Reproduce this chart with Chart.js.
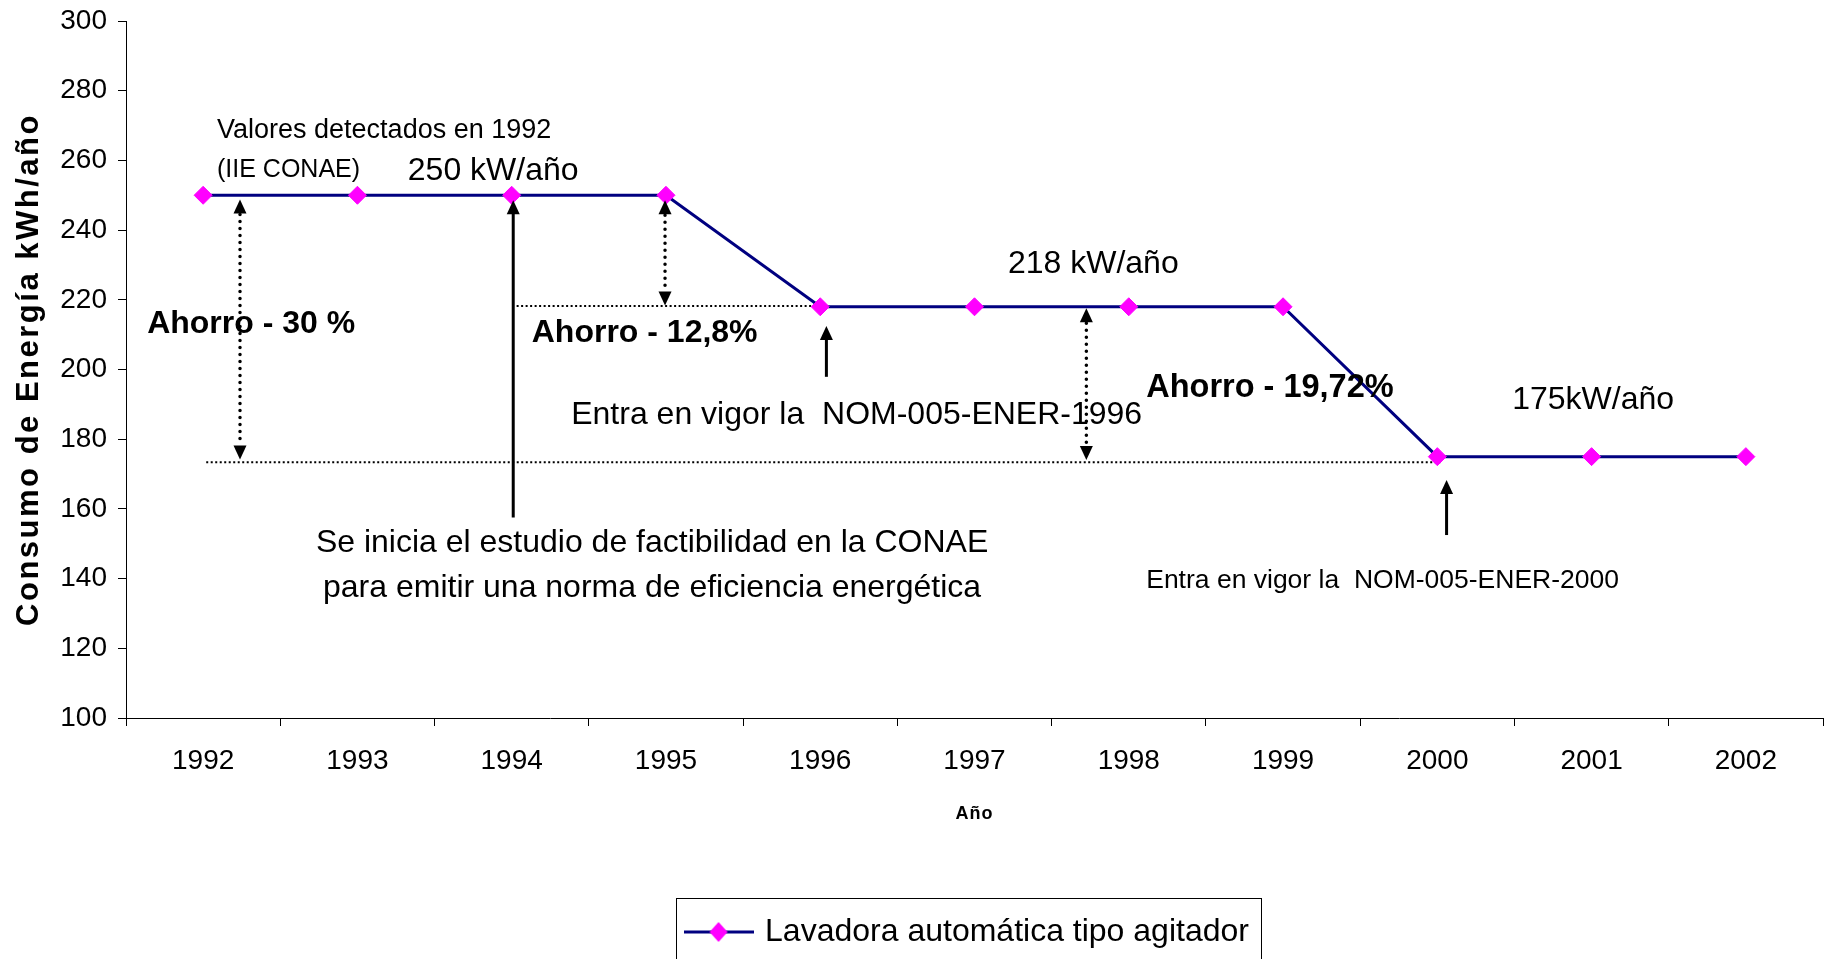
<!DOCTYPE html>
<html lang="es">
<head>
<meta charset="utf-8">
<title>Consumo de energía - lavadora automática</title>
<script src="https://cdn.jsdelivr.net/npm/chart.js@4.4.1/dist/chart.umd.min.js"></script>
<style>
  html, body { margin: 0; padding: 0; background: #fff; }
  #caja { width: 1833px; height: 959px; }
</style>
</head>
<body>
<div id="caja"><canvas id="consumo"></canvas></div>
<script>
// consumo de energia, lavadora automatica tipo agitador

const anios = ['1992', '1993', '1994', '1995', '1996', '1997', '1998', '1999', '2000', '2001', '2002'];
const consumo = [250, 250, 250, 250, 218, 218, 218, 218, 175, 175, 175];
const ticksY = [100, 120, 140, 160, 180, 200, 220, 240, 260, 280, 300];
const serie = 'Lavadora automática tipo agitador';
const tituloY = 'Consumo de Energía kWh/año';
const tituloX = 'Año';

// notas del grafico (x = indice de año, y = valor del eje)
const notas = [
  { texto: 'Valores detectados en 1992', x: 0.09, y: 268.6, size: 27, align: 'left' },
  { texto: '(IIE CONAE)', x: 0.09, y: 257.1, size: 25, align: 'left' },
  { texto: '250 kW/año', x: 1.88, y: 257.0, size: 32, align: 'center' },
  { texto: 'Ahorro - 30 %', x: -0.363, y: 213.1, size: 32, bold: true, align: 'left' },
  { texto: 'Ahorro - 12,8%', x: 2.13, y: 210.4, size: 32, bold: true, align: 'left' },
  { texto: 'Entra en vigor la  NOM-005-ENER-1996', x: 2.386, y: 186.9, size: 32, align: 'left' },
  { texto: '218 kW/año', x: 5.77, y: 230.1, size: 32, align: 'center' },
  { texto: 'Ahorro - 19,72%', x: 6.113, y: 194.8, size: 32.5, bold: true, align: 'left' },
  { texto: '175kW/año', x: 9.01, y: 191.3, size: 32, align: 'center' },
  { texto: 'Entra en vigor la  NOM-005-ENER-2000', x: 6.113, y: 139.3, size: 26.5, align: 'left' },
  { texto: 'Se inicia el estudio de factibilidad en la CONAE', x: 2.91, y: 150.3, size: 32, align: 'center' },
  { texto: 'para emitir una norma de eficiencia energética', x: 2.91, y: 137.2, size: 32, align: 'center' }
];

const lineasPunteadas = [
  { x1: 0.02, x2: 8.02, y: 173.4 },
  { x1: 2.032, x2: 3.98, y: 218.2 }
];

// flechas dobles punteadas (ahorros)
const flechasDobles = [
  { x: 0.239, y1: 248.8, y2: 174.2 },
  { x: 2.994, y1: 248.6, y2: 218.4 },
  { x: 5.725, y1: 217.6, y2: 174.0 }
];

// flechas solidas, punta en y2
const flechas = [
  { x: 2.01, y1: 157.5, y2: 248.6 },
  { x: 4.04, y1: 197.9, y2: 212.5 },
  { x: 8.06, y1: 152.5, y2: 168.3 }
];

const FUENTE = "'Liberation Sans', Arial, sans-serif";
Chart.defaults.font.family = FUENTE;
Chart.defaults.color = '#000';

function marcaLeyenda() {
  const c = document.createElement('canvas');
  c.width = 70; c.height = 22;
  const g = c.getContext('2d');
  g.strokeStyle = '#000080';
  g.lineWidth = 3;
  g.beginPath(); g.moveTo(0, 11); g.lineTo(70, 11); g.stroke();
  g.fillStyle = '#FF00FF';
  g.beginPath();
  g.moveTo(35, 1); g.lineTo(44, 11); g.lineTo(35, 21); g.lineTo(26, 11);
  g.closePath(); g.fill();
  return c;
}
const marca = marcaLeyenda();

function punta(ctx, x, y, dir) {
  // dir -1 = hacia arriba, 1 = hacia abajo
  ctx.beginPath();
  ctx.moveTo(x, y);
  ctx.lineTo(x - 6.5, y - dir * 14);
  ctx.lineTo(x + 6.5, y - dir * 14);
  ctx.closePath();
  ctx.fill();
}

const notasPlugin = {
  id: 'notas',
  afterLayout(chart) {
    chart.legend.left += 52;
    chart.legend.right += 52;
  },
  beforeDatasetsDraw(chart) {
    const {ctx, scales: {x, y}} = chart;
    ctx.save();
    ctx.strokeStyle = '#000';
    ctx.lineWidth = 2;
    ctx.setLineDash([2, 2.5]);
    lineasPunteadas.forEach(l => {
      ctx.beginPath();
      ctx.moveTo(x.getPixelForValue(l.x1), y.getPixelForValue(l.y));
      ctx.lineTo(x.getPixelForValue(l.x2), y.getPixelForValue(l.y));
      ctx.stroke();
    });
    ctx.restore();
  },
  afterDatasetsDraw(chart) {
    const {ctx, scales: {x, y}} = chart;
    ctx.save();
    ctx.fillStyle = '#000';
    ctx.strokeStyle = '#000';

    flechasDobles.forEach(f => {
      const px = x.getPixelForValue(f.x);
      const top = y.getPixelForValue(f.y1), bot = y.getPixelForValue(f.y2);
      ctx.save();
      ctx.lineWidth = 3.5;
      ctx.lineCap = 'round';
      ctx.setLineDash([0, 7]);
      ctx.beginPath();
      ctx.moveTo(px, top + 15);
      ctx.lineTo(px, bot - 15);
      ctx.stroke();
      ctx.restore();
      punta(ctx, px, top, -1);
      punta(ctx, px, bot, 1);
    });

    flechas.forEach(f => {
      const px = x.getPixelForValue(f.x);
      const a = y.getPixelForValue(f.y1), b = y.getPixelForValue(f.y2);
      ctx.lineWidth = 3;
      ctx.beginPath();
      ctx.moveTo(px, a);
      ctx.lineTo(px, b + 12);
      ctx.stroke();
      punta(ctx, px, b, -1);
    });

    ctx.textBaseline = 'middle';
    notas.forEach(n => {
      ctx.font = (n.bold ? 'bold ' : '') + n.size + 'px ' + FUENTE;
      ctx.textAlign = n.align;
      ctx.fillText(n.texto, x.getPixelForValue(n.x), y.getPixelForValue(n.y));
    });
    ctx.restore();
  },
  afterDraw(chart) {
    const {ctx, chartArea} = chart;
    ctx.save();
    ctx.fillStyle = '#000';
    ctx.textAlign = 'center';
    ctx.textBaseline = 'middle';

    // titulo eje y
    ctx.save();
    ctx.font = 'bold 31px ' + FUENTE;
    ctx.letterSpacing = '2.5px';
    ctx.translate(29, (chartArea.top + chartArea.bottom) / 2);
    ctx.rotate(-Math.PI / 2);
    ctx.fillText(tituloY, 0, 0);
    ctx.restore();

    // titulo eje x
    ctx.save();
    ctx.font = 'bold 18px ' + FUENTE;
    ctx.letterSpacing = '1px';
    ctx.fillText(tituloX, (chartArea.left + chartArea.right) / 2, chartArea.bottom + 96);
    ctx.restore();

    // marco de la leyenda
    const hb = chart.legend.legendHitBoxes[0];
    if (hb) {
      ctx.strokeStyle = '#000';
      ctx.lineWidth = 1;
      ctx.strokeRect(Math.round(hb.left - 12) + 0.5, Math.round(hb.top - 18) + 0.5, Math.round(hb.width + 24), 100);
    }
    ctx.restore();
  }
};

new Chart(
  document.getElementById('consumo'),
  {
    type: 'line',
    data: {
      labels: anios,
      datasets: [
        {
          label: serie,
          data: consumo,
          borderColor: '#000080',
          borderWidth: 3,
          backgroundColor: '#FF00FF',
          pointStyle: 'rectRot',
          pointRadius: 9,
          pointBackgroundColor: '#FF00FF',
          pointBorderColor: '#FF00FF',
          pointBorderWidth: 1,
          tension: 0,
          fill: false
        }
      ]
    },
    options: {
      responsive: true,
      maintainAspectRatio: false,
      devicePixelRatio: 1,
      animation: false,
      layout: {
        padding: { top: 21, right: 0, bottom: 1, left: 0 }
      },
      plugins: {
        tooltip: { enabled: false },
        legend: {
          position: 'bottom',
          labels: {
            usePointStyle: true,
            pointStyleWidth: 61,
            padding: 10,
            color: '#000',
            font: { size: 32 },
            generateLabels(chart) {
              const items = Chart.defaults.plugins.legend.labels.generateLabels(chart);
              items.forEach(it => { it.pointStyle = marca; });
              return items;
            }
          }
        }
      },
      scales: {
        x: {
          offset: true,
          grid: { offset: true, drawOnChartArea: false, tickLength: 8, color: '#000' },
          border: { color: '#000', width: 1 },
          ticks: { font: { size: 28 }, padding: 18, color: '#000', maxRotation: 0, autoSkip: false },
          afterFit(scale) { scale.height = 188; }
        },
        y: {
          min: ticksY[0],
          max: ticksY[ticksY.length - 1],
          grid: { drawOnChartArea: false, tickLength: 8, color: '#000' },
          border: { color: '#000', width: 1 },
          ticks: { stepSize: ticksY[1] - ticksY[0], font: { size: 28 }, padding: 11, color: '#000' },
          afterFit(scale) {
            scale.width = 126;
            scale.paddingTop = 0;
            scale.paddingBottom = 0;
          }
        }
      }
    },
    plugins: [notasPlugin]
  }
);
</script>
</body>
</html>
